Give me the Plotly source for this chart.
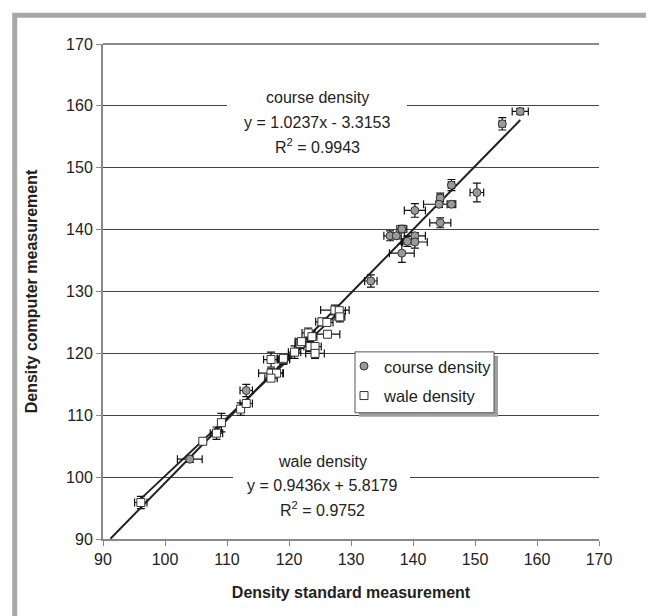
import plotly.graph_objects as go

# course density data
course_x = [157.3, 154.4, 150.3, 146.2, 144.4, 144.2, 146.2, 140.3, 144.4, 138.2,
            136.3, 137.3, 140.3, 139.1, 140.3, 138.2, 133.2, 113.1, 104.0]
course_y = [159.1, 157.1, 146.0, 147.2, 145.1, 144.1, 144.1, 143.1, 141.1, 140.1,
            139.0, 139.0, 139.0, 138.1, 138.0, 136.2, 131.7, 114.0, 102.9]
course_xerr = [1.3, 0.5, 1.1, 0.5, 0.5, 2.5, 0.7, 1.7, 1.7, 0.8,
               1.0, 0.8, 1.7, 1.0, 2.0, 2.0, 1.0, 1.0, 2.0]
course_yerr = [0.5, 1.0, 1.5, 0.9, 0.8, 0.5, 0.5, 1.1, 0.8, 0.6,
               0.8, 0.5, 0.5, 0.8, 1.0, 1.5, 1.0, 1.0, 0.5]

# wale density data
wale_x = [96.1, 106.1, 108.3, 109.1, 112.2, 113.1, 117.1, 119.1, 117.1, 118.0,
          117.1, 121.8, 123.4, 124.2, 124.2, 127.4, 128.1, 128.2, 125.3, 126.1,
          126.2, 123.1, 123.7, 122.0, 119.1, 120.9]
wale_y = [95.9, 105.8, 107.1, 108.8, 111.0, 111.9, 119.0, 119.0, 116.8, 116.8,
          116.0, 121.6, 121.1, 121.1, 120.0, 127.0, 126.9, 125.9, 125.1, 125.0,
          123.1, 123.3, 122.7, 121.9, 119.2, 120.2]
wale_xerr = [1.0, 0.5, 1.0, 0.5, 0.5, 1.0, 1.2, 1.0, 2.0, 1.0,
             1.0, 0.8, 1.0, 1.0, 1.5, 2.3, 1.0, 0.8, 1.0, 1.0,
             2.0, 1.0, 0.8, 1.0, 1.0, 1.0]
wale_yerr = [1.0, 0.5, 1.0, 1.5, 1.0, 0.5, 1.2, 0.8, 0.8, 0.5,
             0.5, 0.8, 0.8, 0.5, 0.8, 0.8, 0.5, 0.8, 0.6, 0.5,
             0.5, 0.8, 0.5, 0.5, 0.5, 1.0]

# trend lines
course_slope, course_icpt = 1.0237, -3.3153
wale_slope, wale_icpt = 0.9436, 5.8179
course_range = [91.2, 157.3]
wale_range = [96.0, 128.5]

ticks = [90, 100, 110, 120, 130, 140, 150, 160, 170]

FONT = "Liberation Sans, Arial, sans-serif"
TXT = "#222222"

fig = go.Figure()

fig.add_trace(go.Scatter(
    x=course_range, y=[course_slope * v + course_icpt for v in course_range],
    mode="lines", line=dict(color="#222222", width=2), showlegend=False, hoverinfo="skip"))
fig.add_trace(go.Scatter(
    x=wale_range, y=[wale_slope * v + wale_icpt for v in wale_range],
    mode="lines", line=dict(color="#222222", width=2), showlegend=False, hoverinfo="skip"))

fig.add_trace(go.Scatter(
    x=wale_x, y=wale_y, mode="markers", name="wale density", legendgroup="w", legendrank=2,
    marker=dict(symbol="square", size=8, color="white", line=dict(color="#333333", width=1)),
    error_x=dict(type="data", array=wale_xerr, color="#111111", thickness=1.2, width=4),
    error_y=dict(type="data", array=wale_yerr, color="#111111", thickness=1.2, width=4)))

fig.add_trace(go.Scatter(
    x=course_x, y=course_y, mode="markers", name="course density", legendgroup="c", legendrank=1,
    marker=dict(symbol="circle", size=8, color="#9a9a9a", line=dict(color="#333333", width=1)),
    error_x=dict(type="data", array=course_xerr, color="#111111", thickness=1.2, width=4),
    error_y=dict(type="data", array=course_yerr, color="#111111", thickness=1.2, width=4)))

axis_common = dict(
    range=[90, 170], tickvals=ticks, ticks="outside", ticklen=5, tickcolor="#888888",
    showline=True, linecolor="#888888", linewidth=2, zeroline=False,
    tickfont=dict(family=FONT, size=16, color=TXT),
)
fig.update_xaxes(**axis_common, showgrid=False,
                 title=dict(text="<b>Density standard measurement</b>",
                            font=dict(family=FONT, size=16, color=TXT), standoff=20))
fig.update_yaxes(**axis_common, showgrid=True, gridcolor="#444444", gridwidth=1,
                 title=dict(text="<b>Density computer measurement</b>",
                            font=dict(family=FONT, size=16, color=TXT), standoff=24))

W = 496.0
shapes = [
    # outer frame
    dict(type="rect", xref="paper", yref="paper", x0=-0.178, x1=1.104, y0=-0.2, y1=1.058,
         line=dict(color="#a8a8a8", width=5), fillcolor="rgba(0,0,0,0)", layer="below"),
    # top line of plot area
    dict(type="line", xref="paper", yref="paper", x0=0, x1=1, y0=1, y1=1,
         line=dict(color="#888888", width=2)),
    # white gaps behind equation labels
    dict(type="rect", xref="paper", yref="paper", x0=(227 - 103) / W, x1=(407 - 103) / W,
         y0=(539.5 - 110) / W, y1=(539.5 - 90) / W, line=dict(width=0), fillcolor="white", layer="above"),
    dict(type="rect", xref="paper", yref="paper", x0=(233 - 103) / W, x1=(410 - 103) / W,
         y0=(539.5 - 482) / W, y1=(539.5 - 470) / W, line=dict(width=0), fillcolor="white", layer="above"),
    # legend shadow
    dict(type="rect", xref="paper", yref="paper", x0=(359 - 103) / W, x1=(498 - 103) / W,
         y0=(539.5 - 417) / W, y1=(539.5 - 356) / W, line=dict(width=0), fillcolor="#a0a0a0", layer="above"),
    # legend box
    dict(type="rect", xref="paper", yref="paper", x0=(355 - 103) / W, x1=(494 - 103) / W,
         y0=(539.5 - 413) / W, y1=(539.5 - 352) / W, line=dict(color="#555555", width=1),
         fillcolor="white", layer="above"),
]

def ann(text, px, py):
    return dict(text=text, xref="paper", yref="paper", x=(px - 103) / W, y=(539.5 - py) / W,
                showarrow=False, xanchor="center", yanchor="middle",
                font=dict(family=FONT, size=16, color=TXT))

annotations = [
    ann("course density", 317, 97),
    ann("y = 1.0237x - 3.3153", 317, 122),
    ann("R<sup>2</sup> = 0.9943", 317, 146),
    ann("wale density", 322, 462),
    ann("y = 0.9436x + 5.8179", 322, 486),
    ann("R<sup>2</sup> = 0.9752", 322, 509),
]

# page body has an 8px margin: the figure is placed at (8, 8)
fig.update_layout(
    width=646, height=608,
    margin=dict(l=95, r=55, t=35.5, b=76.5),
    paper_bgcolor="white", plot_bgcolor="white",
    shapes=shapes, annotations=annotations,
    legend=dict(x=(344 - 103) / W, y=(539.5 - 349) / W, xanchor="left", yanchor="top",
                bgcolor="rgba(0,0,0,0)", borderwidth=0,
                font=dict(family=FONT, size=16.5, color=TXT), traceorder="grouped",
                itemwidth=30, tracegroupgap=5),
    font=dict(family=FONT, color=TXT),
)

fig.write_html("out.html")
